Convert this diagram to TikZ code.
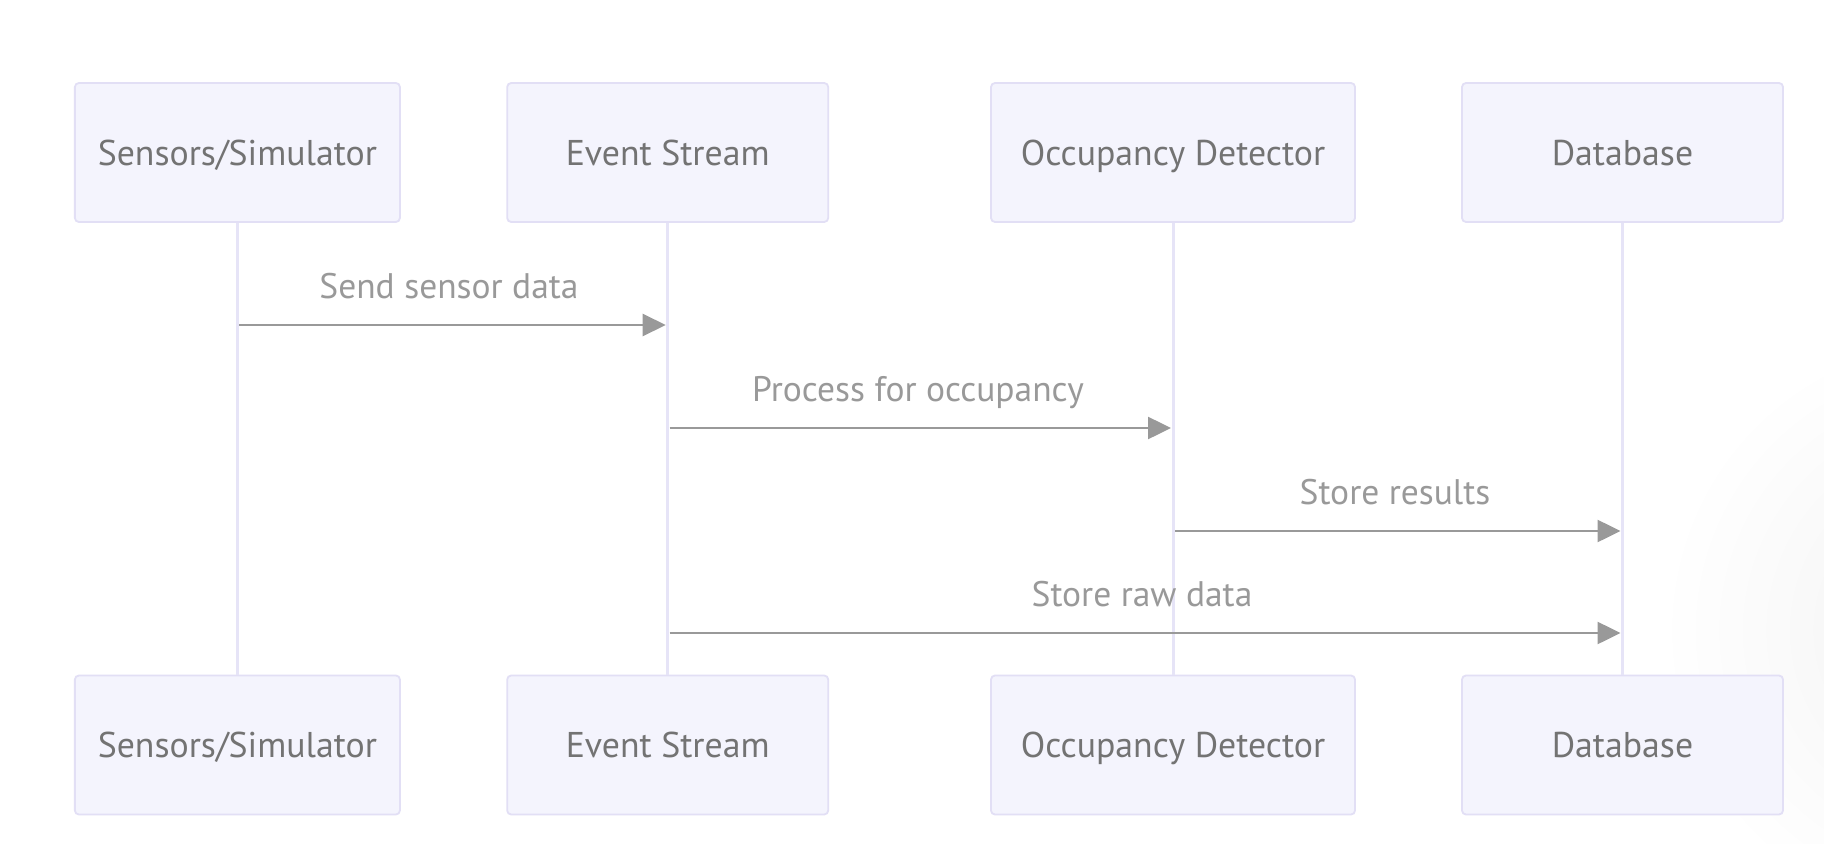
\documentclass[tikz,border=0pt]{standalone}
\usepackage{fontspec}
\setmainfont{PT Sans}
\usetikzlibrary{arrows.meta}
\definecolor{actfill}{HTML}{F4F4FD}
\definecolor{actdraw}{HTML}{E2DFF5}
\definecolor{lifecol}{HTML}{E6E4F7}
\definecolor{acttext}{HTML}{737373}
\definecolor{msgcol}{HTML}{999999}
\begin{document}
\begin{tikzpicture}[x=1bp,y=-1bp,
  actor/.style={draw=actdraw, fill=actfill, line width=1.8bp, rounded corners=4bp,
    minimum height=139bp, inner sep=0pt, text=acttext,
    text height=25bp, text depth=0pt,
    font=\fontsize{35.8bp}{40bp}\selectfont},
  lifeline/.style={draw=lifecol, line width=3bp},
  msg/.style={draw=msgcol, line width=2.5bp, -{Triangle[length=23bp,width=22bp]}},
  msglabel/.style={anchor=base, text=msgcol, inner sep=0pt,
    font=\fontsize{35.5bp}{40bp}\selectfont}]
\useasboundingbox (0,0) rectangle (1824,844);
\fill[white] (0,0) rectangle (1824,844);
\begin{scope}
\clip (0,0) rectangle (1824,844);
\shade[inner color=black!5, outer color=white] (1960,630) circle (300);
\end{scope}
% actors
\node[actor, minimum width=325bp] (a1) at (237.4,152.5) {Sensors/Simulator};
\node[actor, minimum width=321bp] (a2) at (667.7,152.5) {Event Stream};
\node[actor, minimum width=364bp] (a3) at (1173,152.5) {Occupancy Detector};
\node[actor, minimum width=321bp] (a4) at (1622.5,152.5) {Database};
\node[actor, minimum width=325bp] (b1) at (237.4,745) {Sensors/Simulator};
\node[actor, minimum width=321bp] (b2) at (667.7,745) {Event Stream};
\node[actor, minimum width=364bp] (b3) at (1173,745) {Occupancy Detector};
\node[actor, minimum width=321bp] (b4) at (1622.5,745) {Database};
% lifelines
\draw[lifeline] (a1.south) -- (b1.north);
\draw[lifeline] (a2.south) -- (b2.north);
\draw[lifeline] (a3.south) -- (b3.north);
\draw[lifeline] (a4.south) -- (b4.north);
% message rows
\coordinate (r1) at (0,325);
\coordinate (r2) at (0,428);
\coordinate (r3) at (0,531);
\coordinate (r4) at (0,633);
\draw[msg, shorten <=2bp, shorten >=2bp] (a1 |- r1) -- (a2 |- r1);
\draw[msg, shorten <=2bp, shorten >=2bp] (a2 |- r2) -- (a3 |- r2);
\draw[msg, shorten <=2bp, shorten >=2bp] (a3 |- r3) -- (a4 |- r3);
\draw[msg, shorten <=2bp, shorten >=2bp] (a2 |- r4) -- (a4 |- r4);
\node[msglabel] (l1) at (449,298) {Send sensor data};
\node[msglabel] (l2) at (918,401) {Process for occupancy};
\node[msglabel] (l3) at (1395,504) {Store results};
\node[msglabel] (l4) at (1142,606) {Store raw data};
\end{tikzpicture}
\end{document}
